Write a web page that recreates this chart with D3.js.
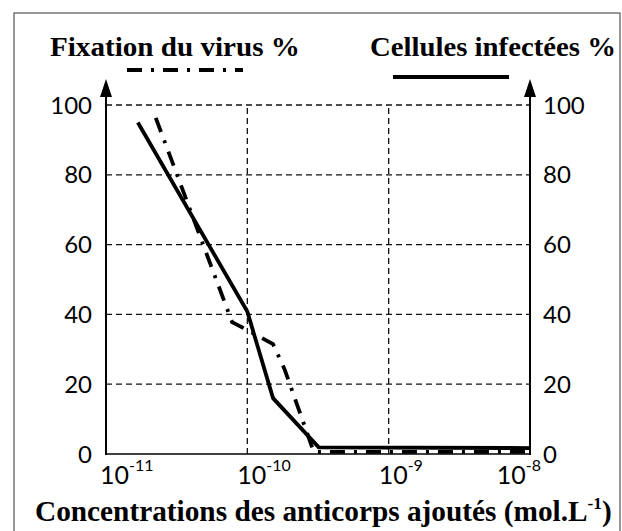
<!DOCTYPE html>
<html>
<head>
<meta charset="utf-8">
<script src="https://cdn.jsdelivr.net/npm/d3@7"></script>
<style>
  html, body { margin: 0; padding: 0; background: #fff; }
  svg { display: block; }
</style>
</head>
<body>
<svg id="chart" width="622" height="531"></svg>
<script>
// ---- Data ----
const xTicks = [1e-11, 1e-10, 1e-9, 1e-8];
const xTickExponents = ["-11", "-10", "-9", "-8"];
const yTicks = [0, 20, 40, 60, 80, 100];
const yGrid = [20, 40, 60, 80, 100];
const xGrid = [1e-10, 1e-9];

// Fixation du virus % (dash-dot)
const fixationX = [2.25e-11, 7.8e-11, 1e-10, 1.52e-10, 1.83e-10, 2.95e-10, 1e-8];
const fixationY = [96.3, 37.8, 35.5, 31.5, 24.4, 0.6, 0.6];

// Cellules infectées % (solid)
const cellulesX = [1.68e-11, 1e-10, 1.52e-10, 3.2e-10, 1e-8];
const cellulesY = [95, 40.8, 16, 1.9, 1.7];

const titleLeft = "Fixation du virus %";
const titleRight = "Cellules infectées %";
const xTitleMain = "Concentrations des anticorps ajoutés (mol.L";
const xTitleExp = "-1";
const xTitleEnd = ")";

// ---- Layout ----
const svg = d3.select("#chart");
const x = d3.scaleLog().domain([1e-11, 1e-8]).range([106, 530]);
const y = d3.scaleLinear().domain([0, 100]).range([454, 105]);
const xL = x.range()[0], xR = x.range()[1];

const serif = "'Liberation Serif', 'Times New Roman', serif";
const sans = "Lato, 'Open Sans', sans-serif";
const dashDot = "15,9,3,9";

// outer frame
svg.append("rect")
  .attr("x", 14).attr("y", 13).attr("width", 606).attr("height", 540)
  .attr("fill", "none").attr("stroke", "#555").attr("stroke-width", 1.2);

// grid
svg.append("g").selectAll("line").data(yGrid).join("line")
  .attr("x1", xL).attr("x2", xR)
  .attr("y1", d => y(d)).attr("y2", d => y(d))
  .attr("stroke", "#111").attr("stroke-width", 1.3).attr("stroke-dasharray", "6,4");
svg.append("g").selectAll("line").data(xGrid).join("line")
  .attr("x1", d => x(d)).attr("x2", d => x(d))
  .attr("y1", y(0)).attr("y2", y(100))
  .attr("stroke", "#111").attr("stroke-width", 1.3).attr("stroke-dasharray", "6,4");

// axes
const axisG = svg.append("g");
axisG.append("line").attr("x1", xL).attr("x2", xR).attr("y1", y(0)).attr("y2", y(0))
  .attr("stroke", "#000").attr("stroke-width", 1.6);
[xL, xR].forEach(ax => {
  axisG.append("line").attr("x1", ax).attr("x2", ax).attr("y1", y(0) + 1).attr("y2", 92)
    .attr("stroke", "#000").attr("stroke-width", 2);
  axisG.append("path")
    .attr("d", `M${ax},79 L${ax - 6},97 L${ax + 6},97 Z`)
    .attr("fill", "#000");
});

// y tick labels
svg.append("g").selectAll("text").data(yTicks).join("text")
  .attr("x", 92).attr("y", d => y(d) + 8.5)
  .attr("text-anchor", "end")
  .attr("font-family", sans).attr("font-size", 24).attr("fill", "#000")
  .text(d => d);
svg.append("g").selectAll("text").data(yTicks).join("text")
  .attr("x", 543).attr("y", d => y(d) + 8.5)
  .attr("text-anchor", "start")
  .attr("font-family", sans).attr("font-size", 24).attr("fill", "#000")
  .text(d => d);

// x tick labels
const xLab = svg.append("g").selectAll("text").data(xTicks).join("text")
  .attr("y", 484)
  .attr("font-family", sans).attr("font-size", 25).attr("fill", "#000");
xLab.append("tspan").text("10");
xLab.append("tspan").attr("dy", -13).attr("font-size", 16).text((d, i) => xTickExponents[i]);
xLab.each(function(d) {
  const t = d3.select(this);
  t.attr("x", 0);
  const w = this.getBBox().width;
  let start = x(d) - 10;
  if (start < 100) start = 100;
  if (start + w > 541) start = 541 - w;
  t.attr("x", start);
});

// data lines
const line = d3.line().x(d => x(d[0])).y(d => y(d[1]));
const fixation = fixationX.map((v, i) => [v, fixationY[i]]);
const cellules = cellulesX.map((v, i) => [v, cellulesY[i]]);

svg.append("path").datum(cellules).attr("d", line)
  .attr("fill", "none").attr("stroke", "#000").attr("stroke-width", 3.8)
  .attr("stroke-linejoin", "miter");
svg.append("path").datum(fixation).attr("d", line)
  .attr("fill", "none").attr("stroke", "#000").attr("stroke-width", 3.8)
  .attr("stroke-dasharray", dashDot);

// titles (scaled horizontally to fit measured extents)
function fitText(sel, x0, x1) {
  const node = sel.node();
  const bb = node.getBBox();
  const s = (x1 - x0) / bb.width;
  sel.attr("transform", `translate(${x0},0) scale(${s},1) translate(${-bb.x},0)`);
}
const tL = svg.append("text").attr("x", 0).attr("y", 56)
  .attr("font-family", serif).attr("font-weight", "bold").attr("font-size", 28)
  .text(titleLeft);
fitText(tL, 50, 300);
const tR = svg.append("text").attr("x", 0).attr("y", 56)
  .attr("font-family", serif).attr("font-weight", "bold").attr("font-size", 28)
  .text(titleRight);
fitText(tR, 370, 616);

// legend lines
svg.append("line").attr("x1", 127).attr("x2", 243).attr("y1", 70).attr("y2", 70)
  .attr("stroke", "#000").attr("stroke-width", 3.8).attr("stroke-dasharray", dashDot);
svg.append("line").attr("x1", 393).attr("x2", 509).attr("y1", 77).attr("y2", 77)
  .attr("stroke", "#000").attr("stroke-width", 3.8);

// x axis title
const tX = svg.append("text").attr("x", 0).attr("y", 521)
  .attr("font-family", serif).attr("font-weight", "bold").attr("font-size", 29);
tX.append("tspan").text(xTitleMain);
tX.append("tspan").attr("dy", -12).attr("font-size", 17).text(xTitleExp);
tX.append("tspan").attr("dy", 12).text(xTitleEnd);
fitText(tX, 35, 612);
</script>
</body>
</html>
